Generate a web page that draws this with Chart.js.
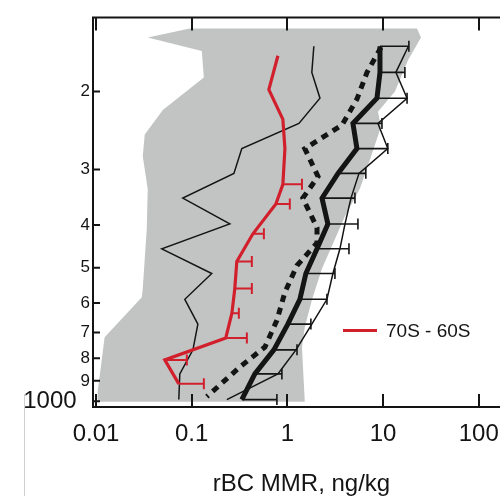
<!DOCTYPE html>
<html>
<head>
<meta charset="utf-8">
<script src="https://cdn.jsdelivr.net/npm/chart.js@4/dist/chart.umd.min.js"></script>
<style>
  html, body { margin: 0; padding: 0; background: #fff; overflow: hidden; }
  #wrap { position: relative; width: 500px; height: 496px; overflow: hidden; }
  #c { position: absolute; left: 0; top: 0; }
  #edge { position: absolute; left: 24px; top: 394px; width: 1px; height: 102px; background: #d0d0d0; }
</style>
</head>
<body>
<div id="wrap">
  <canvas id="c" width="520" height="496"></canvas>
  <div id="edge"></div>
</div>
<script>
// ---- data (pressure in hPa, rBC MMR in ng/kg) ----
const xTicks = [0.01, 0.1, 1, 10, 100];
const yTicks = [200, 300, 400, 500, 600, 700, 800, 900, 1000];
const xTitle = 'rBC MMR, ng/kg';
const legendLabel = '70S - 60S';

// common altitude-bin pressure levels of the black profiles
const levels     = [158, 181, 207, 236, 269, 306, 348, 398, 453, 515, 589, 670, 766, 868, 992];
const meanThick  = [9.28, 9.28, 8.63, 4.84, 5.33, 3.38, 2.30, 2.65, 2.04, 1.56, 1.35, 1.01, 0.722, 0.457, 0.334];
const meanThickHi= [18.6, 16.9, 17.8, 9.73, 11.2, 6.6, 5.08, 5.46, 4.40, 3.14, 2.59, 1.76, 1.26, 0.876, 0.777];
const thinRight  = [18.4, 13.6, 17.8, 8.84, 11.2, 5.60, 4.62, 4.00, 3.54, 2.99, 2.59, 1.80, 1.23, 0.796, 0.233];
const thinLeft   = [1.89, 1.80, 2.19, 1.32, 0.334, 0.276, 0.0807, 0.250, 0.0487, 0.162, 0.0847, 0.116, 0.103, 0.0751, 0.0733];

// dotted profile
const dotP = [159, 181, 208, 238, 269, 311, 348, 406, 439, 494, 568, 657, 755, 837, 977];
const dotV = [9.51, 6.79, 5.33, 3.72, 1.52, 2.09, 1.45, 2.04, 2.04, 1.26, 0.942, 0.777, 0.582, 0.319, 0.144];

// red profile 70S - 60S
const redP  = [166, 198, 231, 269, 324, 359, 419, 484, 557, 633, 720, 807, 914];
const redV  = [0.796, 0.640, 0.897, 0.942, 0.897, 0.758, 0.436, 0.296, 0.282, 0.263, 0.227, 0.0523, 0.0733];
const redHi = [null, null, null, null, 1.42, 1.06, 0.568, 0.425, 0.425, 0.311, 0.377, 0.0889, 0.134];

// grey envelope
const envRightP = [144, 151, 170, 200, 222, 240, 285, 331, 382, 441, 502, 592, 681, 755, 1003];
const envRightV = [22.6, 24.9, 18.2, 13.3, 8.84, 9.51, 7.29, 5.73, 4.00, 2.99, 2.30, 1.80, 1.52, 1.42, 1.52];
const envLeftP  = [144, 151, 162, 186, 220, 250, 280, 332, 408, 557, 583, 717, 952, 1003];
const envLeftV  = [0.0955, 0.0347, 0.1275, 0.1338, 0.0499, 0.0323, 0.0308, 0.0347, 0.0339, 0.0308, 0.0301, 0.0123, 0.0104, 0.0104];

// ---- helpers ----
const pts = (vs, ps) => vs.map((v, i) => ({ x: v, y: ps[i] }));
const envelope = pts(envRightV, envRightP)
  .concat(pts(envLeftV, envLeftP).reverse());
envelope.push({ x: envRightV[0], y: envRightP[0] });

const FONT = "'Liberation Sans', Arial, Helvetica, sans-serif";
const INK = '#141414';
const RED = '#d21f2c';

const errorBars = {
  id: 'errorBars',
  afterDatasetsDraw(chart) {
    const { ctx, chartArea: a, scales: { x, y } } = chart;
    ctx.save();
    ctx.beginPath();
    ctx.rect(a.left, a.top, a.right - a.left, a.bottom - a.top);
    ctx.clip();
    chart.data.datasets.forEach(ds => {
      if (!ds.errHi) return;
      ctx.strokeStyle = ds.errColor;
      ctx.lineWidth = ds.errWidth;
      ctx.beginPath();
      ds.data.forEach((pt, j) => {
        const hi = ds.errHi[j];
        if (hi == null) return;
        const x0 = x.getPixelForValue(pt.x);
        const x1 = x.getPixelForValue(hi);
        const yp = y.getPixelForValue(pt.y);
        ctx.moveTo(x0, yp); ctx.lineTo(x1, yp);
        ctx.moveTo(x1, yp - ds.capHalf); ctx.lineTo(x1, yp + ds.capHalf);
      });
      ctx.stroke();
    });
    ctx.restore();
  }
};

const frame = {
  id: 'frame',
  afterDraw(chart) {
    const { ctx, chartArea: a, scales: { x, y } } = chart;
    ctx.save();
    ctx.strokeStyle = INK;
    ctx.lineWidth = 2;
    ctx.beginPath();
    ctx.moveTo(a.left, a.top); ctx.lineTo(a.right, a.top);
    ctx.lineTo(a.right, a.bottom); ctx.lineTo(a.left, a.bottom);
    ctx.closePath();
    ctx.stroke();
    ctx.beginPath();
    xTicks.forEach(v => {
      const px = Math.round(x.getPixelForValue(v)) + 0.0;
      ctx.moveTo(px, a.bottom); ctx.lineTo(px, a.bottom - 13);
      ctx.moveTo(px, a.top); ctx.lineTo(px, a.top + 13);
    });
    yTicks.forEach(p => {
      const py = y.getPixelForValue(p);
      ctx.moveTo(a.left, py); ctx.lineTo(a.left + 7, py);
    });
    ctx.stroke();

    // legend (inside plot)
    const lx = a.left + 250, ly = a.top + 313;
    ctx.strokeStyle = RED;
    ctx.lineWidth = 3;
    ctx.beginPath();
    ctx.moveTo(lx, ly); ctx.lineTo(lx + 34, ly);
    ctx.stroke();
    ctx.fillStyle = INK;
    ctx.font = '19px ' + FONT;
    ctx.textBaseline = 'middle';
    ctx.textAlign = 'left';
    ctx.fillText(legendLabel, lx + 43, ly + 1);
    ctx.restore();
  }
};

const line = (data, color, width, extra) => Object.assign({
  data, borderColor: color, borderWidth: width, showLine: true,
  pointRadius: 0, fill: false, borderJoinStyle: 'miter', tension: 0
}, extra || {});

new Chart(document.getElementById('c'), {
  type: 'scatter',
  data: {
    datasets: [
      line(pts(meanThick, levels), INK, 5, {
        errHi: meanThickHi, errColor: INK, errWidth: 1.6, capHalf: 5.5 }),
      line(pts(dotV, dotP), INK, 5, { borderDash: [7, 6], borderCapStyle: 'butt' }),
      line(pts(redV, redP), RED, 3.2, {
        errHi: redHi, errColor: RED, errWidth: 2, capHalf: 5.5 }),
      line(pts(thinRight, levels), INK, 1.5),
      line(pts(thinLeft, levels), INK, 1.5),
      {
        data: envelope, showLine: true, borderWidth: 0, borderColor: 'rgba(0,0,0,0)',
        backgroundColor: '#c2c4c4', fill: 'shape', pointRadius: 0, tension: 0
      }
    ]
  },
  options: {
    responsive: false,
    animation: false,
    events: [],
    layout: { padding: { top: 15, right: 10, bottom: 0, left: 0 } },
    plugins: { legend: { display: false }, tooltip: { enabled: false } },
    scales: {
      x: {
        type: 'logarithmic',
        min: 0.0093, max: 212,
        grid: { display: false, drawTicks: false },
        border: { display: false },
        afterBuildTicks: s => { s.ticks = xTicks.map(v => ({ value: v })); },
        afterFit: s => { s.height = 89; },
        ticks: {
          autoSkip: false, maxRotation: 0, padding: 13, color: INK,
          font: { family: FONT, size: 24 },
          callback: v => String(v)
        },
        title: {
          display: true, text: xTitle, color: INK,
          font: { family: FONT, size: 24, lineHeight: 1 },
          padding: { top: 0, bottom: 0 }
        }
      },
      y: {
        type: 'logarithmic',
        reverse: true,
        min: 136, max: 1031,
        grid: { display: false, drawTicks: false },
        border: { display: false },
        afterBuildTicks: s => { s.ticks = yTicks.map(v => ({ value: v })); },
        afterFit: s => { s.width = 93; },
        ticks: {
          autoSkip: false, padding: 3, color: INK,
          font: ctx => (ctx.tick && ctx.tick.value === 1000)
            ? { family: FONT, size: 24 } : { family: FONT, size: 17 },
          callback: v => v === 1000 ? '1000  ' : String(v / 100)
        }
      }
    }
  },
  plugins: [errorBars, frame]
});
</script>
</body>
</html>
